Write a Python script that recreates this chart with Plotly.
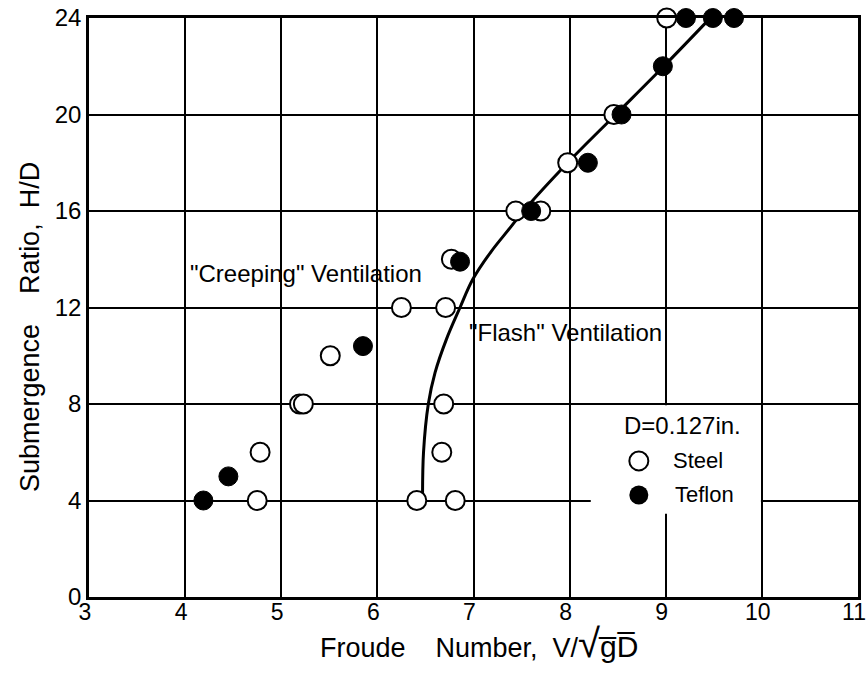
import plotly.graph_objects as go

steel_x = [4.75, 4.78, 5.19, 5.23, 5.51, 6.25, 6.71, 6.77, 6.69, 6.67, 6.41, 6.81, 7.44, 7.70, 7.98, 8.46, 9.01]
steel_y = [4, 6, 8, 8, 10, 12, 12, 14, 8, 6, 4, 4, 16, 16, 18, 20, 24]

teflon_x = [4.19, 4.45, 5.85, 6.86, 7.60, 8.19, 8.54, 8.97, 9.21, 9.49, 9.71]
teflon_y = [4, 5, 10.4, 13.9, 16, 18, 20, 22, 24, 24, 24]

curve_x = [6.47, 6.48, 6.53, 6.60, 6.72, 6.86, 6.99, 7.18, 7.38, 7.52, 7.98, 8.48, 8.98, 9.44]
curve_y = [4.25, 6, 8, 9.3, 10.7, 12, 13.15, 14.3, 15.3, 16, 18, 20, 22, 23.9]

x_ticks = [3, 4, 5, 6, 7, 8, 9, 10, 11]
x_ticktext = ["3", "4", "5", "6", "7", "8", "9", "10", "11"]
y_ticks = [0, 4, 8, 12, 16, 20, 24]

FONT = "Liberation Sans"

L, R, T, B, W, H = 89, 9, 18, 76, 867, 673
PW, PH = W - L - R, H - T - B


def px_to_paper(px, py):
    return (px - L) / PW, (H - B - py) / PH


fig = go.Figure()

fig.add_trace(go.Scatter(x=curve_x, y=curve_y, mode="lines",
                         line=dict(color="black", width=3, shape="spline", smoothing=1.0),
                         showlegend=False, cliponaxis=False, hoverinfo="skip"))
fig.add_trace(go.Scatter(x=steel_x, y=steel_y, mode="markers", name="Steel",
                         marker=dict(size=19, color="white", line=dict(color="black", width=2)),
                         showlegend=False, cliponaxis=False))
fig.add_trace(go.Scatter(x=teflon_x, y=teflon_y, mode="markers", name="Teflon",
                         marker=dict(size=19, color="black", line=dict(color="black", width=1)),
                         showlegend=False, cliponaxis=False))

# legend block (drawn inside plot)
fig.add_shape(type="rect", x0=8.22, x1=9.99, y0=3.45, y1=7.95, xref="x", yref="y",
              fillcolor="white", line=dict(width=0), layer="between")
fig.add_trace(go.Scatter(x=[8.72], y=[5.64], mode="markers",
                         marker=dict(size=19, color="white", line=dict(color="black", width=2)),
                         showlegend=False, hoverinfo="skip"))
fig.add_trace(go.Scatter(x=[8.72], y=[4.23], mode="markers",
                         marker=dict(size=19, color="black"),
                         showlegend=False, hoverinfo="skip"))
fig.add_annotation(x=8.55, y=7.1, text="D=0.127in.", showarrow=False, xanchor="left",
                   font=dict(family=FONT, size=24, color="black"))
fig.add_annotation(x=9.05, y=5.64, text="Steel", showarrow=False, xanchor="left",
                   font=dict(family=FONT, size=22, color="black"))
fig.add_annotation(x=9.08, y=4.23, text="Teflon", showarrow=False, xanchor="left",
                   font=dict(family=FONT, size=22, color="black"))

fig.add_annotation(x=4.03, y=13.4, text="\"Creeping\" Ventilation", showarrow=False, xanchor="left",
                   font=dict(family=FONT, size=24, color="black"))
fig.add_annotation(x=6.93, y=10.95, text="\"Flash\" Ventilation", showarrow=False, xanchor="left",
                   font=dict(family=FONT, size=24, color="black"))

# axis titles
xt_x, xt_y = px_to_paper(318, 643)
fig.add_annotation(xref="paper", yref="paper", x=xt_x, y=xt_y, xanchor="left", yanchor="middle",
                   showarrow=False,
                   text="Froude    Number,  V/<span style='font-size:40px'>√</span>"
                        "<span style='font-size:30px'>g\u0305D\u0305</span>",
                   font=dict(family=FONT, size=27, color="black"))
yt_x, yt_y = px_to_paper(30, 327)
fig.add_annotation(xref="paper", yref="paper", x=yt_x, y=yt_y, xanchor="center", yanchor="middle",
                   showarrow=False, textangle=-90,
                   text="Submergence    Ratio,  H/D",
                   font=dict(family=FONT, size=27, color="black"))

fig.update_xaxes(range=[3, 11], tickvals=x_ticks, ticktext=x_ticktext,
                 showgrid=True, gridcolor="black", gridwidth=1.5,
                 showline=True, linecolor="black", linewidth=2.5, mirror=True,
                 ticks="", ticklen=0, zeroline=False, automargin=False,
                 ticklabelstandoff=-7, ticklabelshift=-4, ticklabeloverflow="allow",
                 tickfont=dict(family=FONT, size=23, color="black"))
fig.update_yaxes(range=[0, 24], tickvals=y_ticks, ticktext=[str(v) for v in y_ticks],
                 showgrid=True, gridcolor="black", gridwidth=1.5,
                 showline=True, linecolor="black", linewidth=2.5, mirror=True,
                 ticks="", ticklen=0, zeroline=False, automargin=False,
                 tickfont=dict(family=FONT, size=24, color="black"))

fig.update_layout(width=W, height=H,
                  margin=dict(l=L, r=R, t=T, b=B, autoexpand=False),
                  plot_bgcolor="white", paper_bgcolor="white", showlegend=False)

fig.write_html("out.html")
